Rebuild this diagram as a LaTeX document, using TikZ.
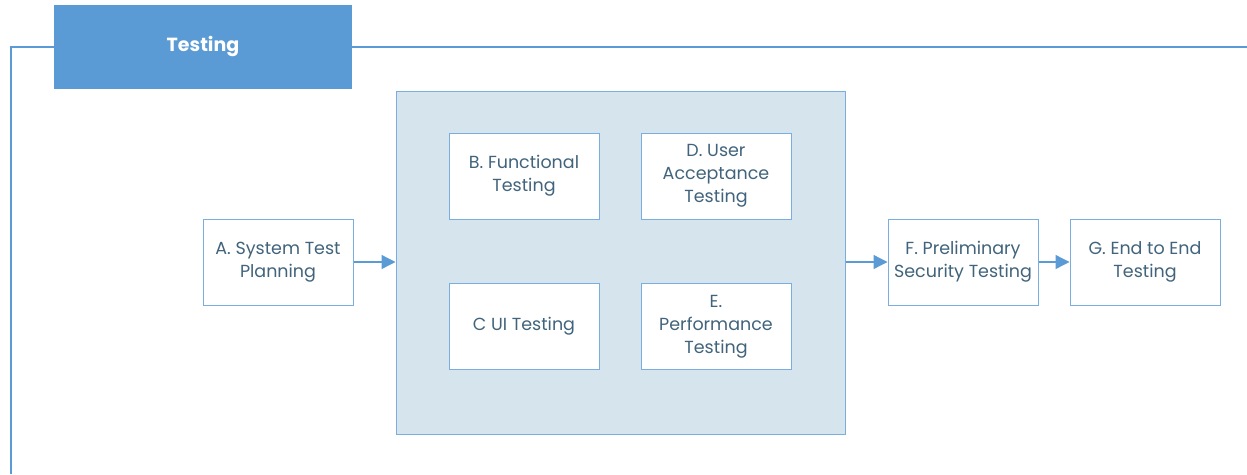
\documentclass[tikz,border=0pt]{standalone}
\usepackage{fontspec}
\setmainfont{Poppins}
\usetikzlibrary{arrows.meta}
\definecolor{hdrblue}{HTML}{5B9BD5}
\definecolor{edgeblue}{HTML}{7AAEE0}
\definecolor{panelfill}{HTML}{D6E4EE}
\definecolor{labeltext}{HTML}{41647C}
\tikzset{
  px/.style={x=1pt,y=-1pt},
  task/.style={draw=edgeblue,line width=1pt,fill=white,minimum width=150pt,minimum height=86pt,
    align=center,text=labeltext,font=\fontsize{17.5}{23}\selectfont,inner sep=0pt},
  flow/.style={draw=hdrblue,line width=1.3pt,-{Triangle[length=14pt,width=14pt]}},
  frame/.style={draw=hdrblue,line width=1.2pt}
}
\begin{document}
\begin{tikzpicture}[px]
\useasboundingbox (0,0) rectangle (1247,474);
% outer frame of the section
\draw[frame] (54,47) -- (11,47) -- (11,474);
\draw[frame] (352,47) -- (1247,47);
% section header
\node[fill=hdrblue,minimum width=298pt,minimum height=84pt,inner sep=0pt,text=white,
  font=\fontsize{19}{22}\selectfont\bfseries] (hdr) at (203,47) {Testing};
% grouping panel
\node[draw=edgeblue,line width=1pt,fill=panelfill,minimum width=449pt,minimum height=343pt,inner sep=0pt] (grp) at (620.5,262.5) {};
% tasks
\node[task] (a) at (278,262) {A. System Test\\Planning};
\node[task] (b) at (524,176) {B. Functional\\Testing};
\node[task] (d) at (716,176) {D. User\\Acceptance\\Testing};
\node[task] (c) at (524,326.5) {C UI Testing};
\node[task] (e) at (716,326.5) {E.\\Performance\\Testing};
\node[task] (f) at (963,262) {F. Preliminary\\Security Testing};
\node[task] (g) at (1145,262) {G. End to End\\Testing};
% flow
\draw[flow] (a.east) -- (a.east -| grp.west);
\draw[flow] (f.west -| grp.east) -- (f.west);
\draw[flow] (f.east) -- (g.west);
\end{tikzpicture}
\end{document}
